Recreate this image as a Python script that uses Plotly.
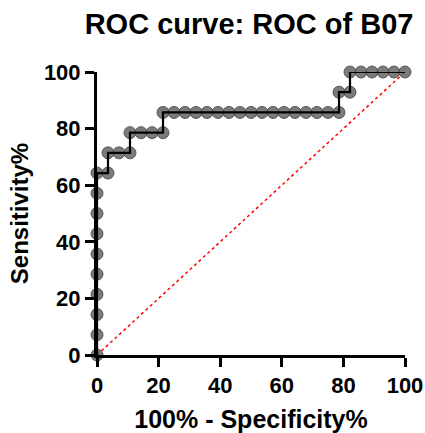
import plotly.graph_objects as go

# 100% - Specificity% (x) and Sensitivity% (y) for each ROC point
fpr = [0, 0, 0, 0, 0, 0, 0, 0, 0, 0,
       3.57, 3.57, 7.14, 10.71, 10.71, 14.29, 17.86, 21.43,
       21.43, 25.0, 28.57, 32.14, 35.71, 39.29, 42.86, 46.43, 50.0,
       53.57, 57.14, 60.71, 64.29, 67.86, 71.43, 75.0, 78.57,
       78.57, 82.14, 82.14, 85.71, 89.29, 92.86, 96.43, 100.0]
tpr = [0, 7.14, 14.29, 21.43, 28.57, 35.71, 42.86, 50.0, 57.14, 64.29,
       64.29, 71.43, 71.43, 71.43, 78.57, 78.57, 78.57, 78.57,
       85.71, 85.71, 85.71, 85.71, 85.71, 85.71, 85.71, 85.71, 85.71,
       85.71, 85.71, 85.71, 85.71, 85.71, 85.71, 85.71, 85.71,
       92.86, 92.86, 100, 100, 100, 100, 100, 100]
diag_x = [0, 100]
diag_y = [0, 100]
tick_vals = [0, 20, 40, 60, 80, 100]
tick_text = ["0", "20", "40", "60", "80", "100"]

FONT = "Liberation Sans, Arial, sans-serif"

fig = go.Figure()
fig.add_trace(go.Scatter(x=diag_x, y=diag_y, mode="lines",
                         line=dict(color="red", width=1.5, dash="dot"),
                         cliponaxis=False, hoverinfo="skip"))
fig.add_trace(go.Scatter(x=fpr, y=tpr, mode="markers",
                         marker=dict(size=12, color="rgba(100,100,100,0.85)",
                                     line=dict(color="rgba(70,70,70,0.85)", width=1)),
                         cliponaxis=False))
fig.add_trace(go.Scatter(x=fpr, y=tpr, mode="lines",
                         line=dict(color="black", width=2.2),
                         cliponaxis=False))

axis_common = dict(
    range=[0, 100], showgrid=False, zeroline=False,
    showline=True, linecolor="black", linewidth=3,
    ticks="outside", ticklen=9, tickwidth=3, tickcolor="black",
    tickvals=tick_vals, ticktext=tick_text,
    tickfont=dict(family=FONT, size=22, color="black", weight="bold"),
)

fig.update_layout(
    width=425, height=433,
    margin=dict(l=97, r=20, t=72, b=78, autoexpand=False),
    paper_bgcolor="white", plot_bgcolor="white",
    showlegend=False,
    title=dict(text="ROC curve: ROC of B07", x=0.586, xanchor="center",
               y=0.944, yanchor="middle",
               font=dict(family=FONT, size=29, color="black", weight="bold")),
    xaxis=dict(**axis_common,
               title=dict(text="100% - Specificity%", standoff=15,
                          font=dict(family=FONT, size=25, color="black", weight="bold"))),
    yaxis=dict(**axis_common,
               title=dict(text="Sensitivity%", standoff=9,
                          font=dict(family=FONT, size=24, color="black", weight="bold"))),
)

fig.write_html("out.html")
